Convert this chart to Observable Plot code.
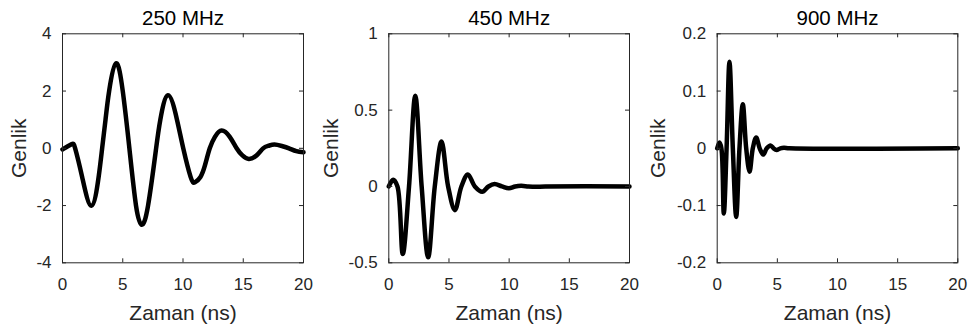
<!DOCTYPE html>
<html>
<head>
<meta charset="utf-8">
<script src="https://cdn.jsdelivr.net/npm/d3@7"></script>
<script src="https://cdn.jsdelivr.net/npm/@observablehq/plot@0.6"></script>
<style>
  html, body { margin: 0; padding: 0; background: #fff; }
  #wrap { position: relative; width: 968px; height: 329px; overflow: hidden; background: #fff; }
  .panel { position: absolute; top: 0; }
</style>
</head>
<body>
<div id="wrap"></div>
<script>
// ---- Data ----
const titles = ["250 MHz", "450 MHz", "900 MHz"];
const xLabel = "Zaman (ns)";
const yLabel = "Genlik";
const xTicks = [0, 5, 10, 15, 20];

const yTicks250 = [-4, -2, 0, 2, 4];
const yTicks450 = [-0.5, 0, 0.5, 1];
const yTicks900 = [-0.2, -0.1, 0, 0.1, 0.2];

// 250 MHz waveform (time ns, amplitude)
const t250 = [0, 0.74, 1.05, 1.63, 2.4, 3.0, 3.29, 3.57, 3.87, 4.44, 5.0, 5.55, 6.1, 6.57, 7.1, 7.77, 8.12, 8.75, 9.5, 10.02, 10.63, 10.99, 11.45, 11.82, 12.22, 12.65, 13.2, 13.88, 14.45, 14.93, 15.46, 16.1, 16.65, 17.1, 17.59, 18.2, 18.8, 19.4, 20];
const v250 = [-0.04, 0.14, 0, -1, -2.01, -1, 0, 1, 2, 2.97, 2, 0, -2, -2.67, -2, 0, 1, 1.85, 1, 0, -1, -1.19, -1, -0.6, 0, 0.4, 0.62, 0.4, 0, -0.25, -0.37, -0.25, 0, 0.09, 0.13, 0.08, 0, -0.1, -0.14];

// 450 MHz waveform
const t450 = [0, 0.36, 0.72, 1.16, 1.68, 2.2, 2.73, 3.27, 3.82, 4.38, 4.93, 5.49, 6.03, 6.57, 7.15, 7.76, 8.28, 8.79, 9.4, 9.98, 10.5, 11.0, 11.6, 12.2, 13, 20];
const v450 = [0, 0.044, 0, -0.443, 0, 0.595, 0, -0.464, 0, 0.294, 0, -0.155, 0, 0.079, 0, -0.035, 0, 0.016, 0, -0.012, 0, 0.004, 0, -0.002, 0, 0];

// 900 MHz waveform
const t900 = [0, 0.19, 0.35, 0.55, 0.78, 1.02, 1.3, 1.58, 1.85, 2.13, 2.41, 2.69, 2.96, 3.24, 3.53, 3.82, 4.12, 4.43, 4.68, 4.93, 5.25, 5.55, 6, 20];
const v900 = [0, 0.01, 0, -0.114, 0, 0.151, 0, -0.12, 0, 0.077, 0, -0.041, 0, 0.019, 0, -0.011, 0, 0.005, 0, -0.003, 0, 0.001, 0, 0];

// ---- Layout ----
const FONT = "'Liberation Sans', Arial, Helvetica, sans-serif";
const INK = "#262626";
const H = 329, MT = 33.3, MB = 66.7;
const TICK = 4;

const panels = [
  {left: 0,   width: 320, ml: 62,   mr: 17,  title: titles[0], t: t250, v: v250, yTicks: yTicks250, ylabDx: -43.5, curve: "natural"},
  {left: 320, width: 320, ml: 68.3, mr: 11,  title: titles[1], t: t450, v: v450, yTicks: yTicks450, ylabDx: -58, curve: "catmull-rom"},
  {left: 640, width: 328, ml: 76.7, mr: 10.7, title: titles[2], t: t900, v: v900, yTicks: yTicks900, ylabDx: -59, curve: "catmull-rom"}
];

const wrap = document.getElementById("wrap");

for (const p of panels) {
  const data = p.t.map((t, i) => ({t, v: p.v[i]}));
  const fw = p.width - p.ml - p.mr;
  const fh = H - MT - MB;
  const yDomain = [p.yTicks[0], p.yTicks[p.yTicks.length - 1]];
  const chart = Plot.plot({
    width: p.width,
    height: H,
    marginLeft: p.ml,
    marginRight: p.mr,
    marginTop: MT,
    marginBottom: MB,
    style: {fontFamily: FONT, fontSize: "17px", color: INK, background: "transparent", overflow: "visible"},
    x: {domain: [0, 20], ticks: xTicks, tickSize: 0, tickPadding: 15, tickFormat: d => String(d), label: null},
    y: {domain: yDomain, ticks: p.yTicks, tickSize: 0, tickPadding: 11, tickFormat: d => String(d), label: null},
    marks: [
      Plot.line(data, {x: "t", y: "v", stroke: "#000", strokeWidth: 4.5, curve: p.curve}),
      Plot.tickX(xTicks, {x: d => d, stroke: INK, strokeWidth: 1, insetTop: fh - TICK}),
      Plot.tickX(xTicks, {x: d => d, stroke: INK, strokeWidth: 1, insetBottom: fh - TICK}),
      Plot.tickY(p.yTicks, {y: d => d, stroke: INK, strokeWidth: 1, insetRight: fw - TICK}),
      Plot.tickY(p.yTicks, {y: d => d, stroke: INK, strokeWidth: 1, insetLeft: fw - TICK}),
      Plot.frame({stroke: INK, strokeWidth: 1}),
      Plot.text([p.title], {frameAnchor: "top", dy: -15, lineAnchor: "middle", textAnchor: "middle", fontSize: 20.5, fill: "#000", text: d => d}),
      Plot.text([xLabel], {frameAnchor: "bottom", dy: 50, lineAnchor: "middle", textAnchor: "middle", fontSize: 21, fill: INK, text: d => d}),
      Plot.text([yLabel], {frameAnchor: "left", dx: p.ylabDx, rotate: -90, lineAnchor: "middle", textAnchor: "middle", fontSize: 21, fill: INK, text: d => d})
    ]
  });
  const div = document.createElement("div");
  div.className = "panel";
  div.style.left = p.left + "px";
  div.appendChild(chart);
  wrap.appendChild(div);
}
</script>
</body>
</html>
